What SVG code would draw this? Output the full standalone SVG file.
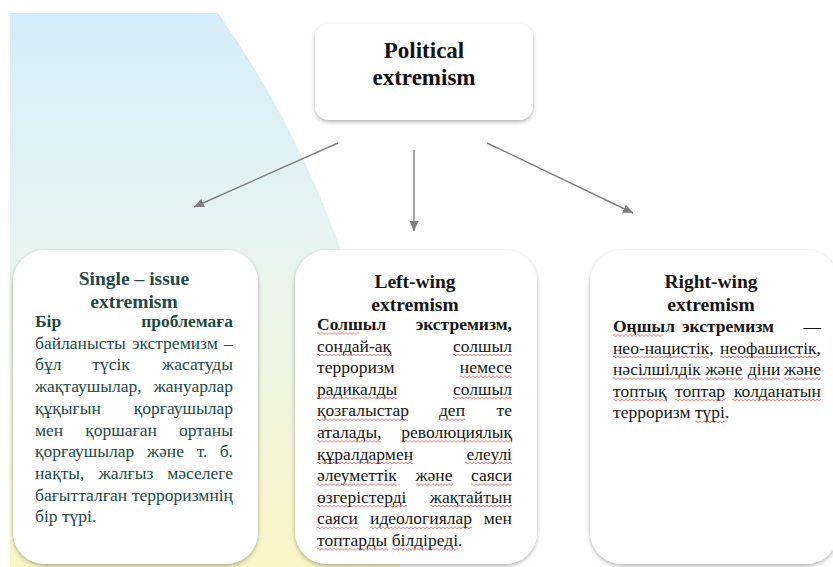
<svg xmlns="http://www.w3.org/2000/svg" width="833" height="567" viewBox="0 0 833 567">
  <defs>
    <linearGradient id="bgGrad" x1="0" y1="13" x2="0" y2="567" gradientUnits="userSpaceOnUse">
      <stop offset="0" stop-color="#d5edf9"/>
      <stop offset="0.45" stop-color="#e9f4ef"/>
      <stop offset="1" stop-color="#faf7c6"/>
    </linearGradient>
    <filter id="cardShadow" x="-10%" y="-10%" width="120%" height="125%">
      <feDropShadow dx="0" dy="2" stdDeviation="2.2" flood-color="#000" flood-opacity="0.3"/>
    </filter>
    <marker id="arrow" markerUnits="userSpaceOnUse" markerWidth="12" markerHeight="10" refX="10" refY="5" orient="auto">
      <path d="M0,0.5 L10,5 L0,9.5 Z" fill="#7f7f7f"/>
    </marker>
    <!-- red wavy spell-check line, clipped to the width given on each <use> -->
    <pattern id="wavy" width="4" height="4" patternUnits="userSpaceOnUse">
      <path d="M0,2 Q1,0 2,2 T4,2" fill="none" stroke="#e05252" stroke-width="0.8"/>
    </pattern>
    <symbol id="squiggle" overflow="hidden">
      <rect width="600" height="4" fill="url(#wavy)"/>
    </symbol>
    <style>
      .t { font-family: "Liberation Serif", "Times New Roman", serif; }
      .title { font-weight: bold; font-size: 19.5px; text-anchor: middle; }
      .head { font-weight: bold; font-size: 23px; text-anchor: middle; fill: #111; }
      .body { font-size: 17.5px; }
      .b { font-weight: bold; }
      .e { text-anchor: end; }
      .m { text-anchor: middle; }
      .teal { fill: #1c4a48; }
      .ink { fill: #151515; }
      .card { fill: #ffffff; filter: url(#cardShadow); }
      .link { stroke: #7f7f7f; stroke-width: 1.4; fill: none; marker-end: url(#arrow); }
    </style>
  </defs>

  <!-- background -->
  <rect width="833" height="567" fill="#ffffff"/>
  <path d="M10,13 H218 Q300,130 345,262 T400,567 H10 Z" fill="url(#bgGrad)"/>

  <!-- root node -->
  <g id="political-extremism">
    <rect class="card" x="315" y="24" width="218" height="96" rx="14"/>
    <text class="t head" x="424" y="58">Political</text>
    <text class="t head" x="424" y="85">extremism</text>
  </g>

  <!-- connectors -->
  <g id="connectors">
    <line class="link" x1="338" y1="143" x2="194" y2="207"/>
    <line class="link" x1="414" y1="150" x2="414" y2="231"/>
    <line class="link" x1="487" y1="143" x2="633" y2="213"/>
  </g>

  <!-- single-issue card -->
  <g id="single-issue">
    <rect class="card" x="13" y="250" width="245" height="314" rx="32"/>
    <g class="t teal">
      <text class="title" x="134" y="285">Single – issue</text>
      <text class="title" x="134" y="308">extremism</text>
    </g>
    <g class="t body teal">
      <text class="b" x="35" y="327">Бір</text>
      <text class="b e" x="233" y="327">проблемаға</text>
      <text x="35" y="348.7" word-spacing="1.7">байланысты экстремизм –</text>
      <text x="35" y="370.4">бұл</text>
      <text class="m" x="111" y="370.4">түсік</text>
      <text class="e" x="233" y="370.4">жасатуды</text>
      <text x="35" y="392.1">жақтаушылар,</text>
      <text class="e" x="233" y="392.1">жануарлар</text>
      <text x="35" y="413.8">құқығын</text>
      <text class="e" x="233" y="413.8">қорғаушылар</text>
      <text x="35" y="435.5">мен</text>
      <text class="m" x="121" y="435.5">қоршаған</text>
      <text class="e" x="233" y="435.5">ортаны</text>
      <text x="35" y="457.2">қорғаушылар</text>
      <text class="m" x="165.5" y="457.2">және</text>
      <text class="m" x="202" y="457.2">т.</text>
      <text class="e" x="233" y="457.2">б.</text>
      <text x="35" y="478.9">нақты,</text>
      <text class="m" x="126" y="478.9">жалғыз</text>
      <text class="e" x="233" y="478.9">мәселеге</text>
      <text x="35" y="500.6">бағытталған</text>
      <text class="e" x="233" y="500.6">терроризмнің</text>
      <text x="35" y="522.3">бір түрі.</text>
    </g>
  </g>

  <!-- left-wing card -->
  <g id="left-wing">
    <rect class="card" x="295" y="250" width="242" height="314" rx="32"/>
    <g class="t ink">
      <text class="title" x="415" y="288">Left-wing</text>
      <text class="title" x="415" y="311">extremism</text>
    </g>
    <g class="t body ink">
      <text class="b" x="317" y="330">Солшыл</text>
      <text class="b e" x="512" y="330">экстремизм,</text>
      <text x="317" y="351.6">сондай-ақ</text>
      <text class="e" x="512" y="351.6">солшыл</text>
      <text x="317" y="373.2">терроризм</text>
      <text class="e" x="512" y="373.2">немесе</text>
      <text x="317" y="394.8">радикалды</text>
      <text class="e" x="512" y="394.8">солшыл</text>
      <text x="317" y="416.4">қозғалыстар</text>
      <text class="m" x="452" y="416.4">деп</text>
      <text class="e" x="512" y="416.4">те</text>
      <text x="317" y="438">аталады,</text>
      <text class="e" x="512" y="438">революциялық</text>
      <text x="317" y="459.6">құралдармен</text>
      <text class="e" x="512" y="459.6">елеулі</text>
      <text x="317" y="481.2">әлеуметтік</text>
      <text class="m" x="434" y="481.2">және</text>
      <text class="e" x="512" y="481.2">саяси</text>
      <text x="317" y="502.8">өзгерістерді</text>
      <text class="e" x="512" y="502.8">жақтайтын</text>
      <text x="317" y="524.4">саяси</text>
      <text class="m" x="421" y="524.4">идеологиялар</text>
      <text class="e" x="512" y="524.4">мен</text>
      <text x="317" y="546">топтарды білдіреді.</text>
    </g>
    <g id="left-wing-squiggles">
      <use href="#squiggle" x="317" y="331.5" width="42" height="4"/>
      <use href="#squiggle" x="317" y="353" width="75" height="4"/>
      <use href="#squiggle" x="453" y="353" width="59" height="4"/>
      <use href="#squiggle" x="460" y="374.6" width="52" height="4"/>
      <use href="#squiggle" x="317" y="396.2" width="80" height="4"/>
      <use href="#squiggle" x="453" y="396.2" width="59" height="4"/>
      <use href="#squiggle" x="317" y="417.8" width="91" height="4"/>
      <use href="#squiggle" x="439" y="417.8" width="26" height="4"/>
      <use href="#squiggle" x="317" y="439.4" width="64" height="4"/>
      <use href="#squiggle" x="401" y="439.4" width="111" height="4"/>
      <use href="#squiggle" x="317" y="461" width="96" height="4"/>
      <use href="#squiggle" x="465" y="461" width="47" height="4"/>
      <use href="#squiggle" x="317" y="482.6" width="80" height="4"/>
      <use href="#squiggle" x="416" y="482.6" width="37" height="4"/>
      <use href="#squiggle" x="471" y="482.6" width="41" height="4"/>
      <use href="#squiggle" x="317" y="504.2" width="90" height="4"/>
      <use href="#squiggle" x="430" y="504.2" width="82" height="4"/>
      <use href="#squiggle" x="317" y="525.8" width="41" height="4"/>
      <use href="#squiggle" x="370" y="525.8" width="102" height="4"/>
      <use href="#squiggle" x="317" y="547.4" width="71" height="4"/>
      <use href="#squiggle" x="392" y="547.4" width="66" height="4"/>
    </g>
  </g>

  <!-- right-wing card -->
  <g id="right-wing">
    <rect class="card" x="590" y="250" width="248" height="314" rx="32"/>
    <g class="t ink">
      <text class="title" x="711" y="288">Right-wing</text>
      <text class="title" x="711" y="311">extremism</text>
    </g>
    <g class="t body ink">
      <text class="b" x="613" y="332">Оңшыл</text>
      <text class="b m" x="728" y="332">экстремизм</text>
      <text class="e" x="821" y="332">—</text>
      <text x="613" y="353.6">нео-нацистік,</text>
      <text class="e" x="821" y="353.6">неофашистік,</text>
      <text x="613" y="375.2">нәсілшілдік</text>
      <text class="m" x="724" y="375.2">және</text>
      <text class="m" x="764" y="375.2">діни</text>
      <text class="e" x="821" y="375.2">және</text>
      <text x="613" y="396.8">топтық</text>
      <text class="m" x="700" y="396.8">топтар</text>
      <text class="e" x="821" y="396.8">колданатын</text>
      <text x="613" y="418.4">терроризм түрі.</text>
    </g>
    <g id="right-wing-squiggles">
      <use href="#squiggle" x="613" y="333.5" width="50" height="4"/>
      <use href="#squiggle" x="613" y="355" width="96" height="4"/>
      <use href="#squiggle" x="720" y="355" width="97" height="4"/>
      <use href="#squiggle" x="613" y="376.6" width="88" height="4"/>
      <use href="#squiggle" x="706" y="376.6" width="37" height="4"/>
      <use href="#squiggle" x="748" y="376.6" width="32" height="4"/>
      <use href="#squiggle" x="784" y="376.6" width="37" height="4"/>
      <use href="#squiggle" x="613" y="398.2" width="54" height="4"/>
      <use href="#squiggle" x="675" y="398.2" width="50" height="4"/>
      <use href="#squiggle" x="732" y="398.2" width="89" height="4"/>
      <use href="#squiggle" x="695" y="419.8" width="30" height="4"/>
    </g>
  </g>
</svg>
